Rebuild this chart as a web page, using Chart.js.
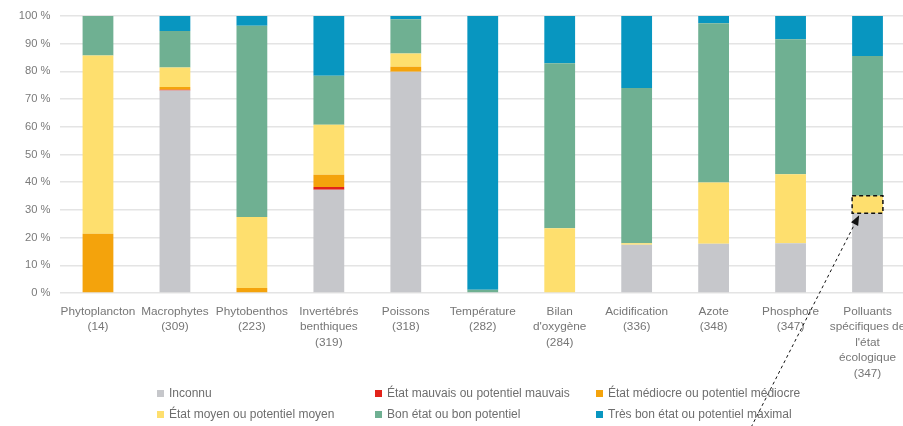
<!DOCTYPE html>
<html lang="fr">
<head>
<meta charset="utf-8">
<script src="https://cdn.jsdelivr.net/npm/chart.js@4/dist/chart.umd.min.js"></script>
<style>
  html, body { margin: 0; padding: 0; background: #fff; overflow: hidden; }
  #wrap { position: relative; width: 906px; height: 426px; }
  #legend { position: absolute; left: 0; top: 0; width: 903px; height: 426px; pointer-events: none;
            font-family: "Liberation Sans", Arial, sans-serif; font-size: 12px; color: #6e6e6e; }
  .item { position: absolute; display: flex; align-items: center; white-space: nowrap; }
  .sw { width: 7px; height: 7px; margin-right: 5px; }
</style>
</head>
<body>
<div id="wrap">
  <canvas id="c" width="906" height="426"></canvas>
  <div id="legend"></div>
</div>
<script>
// Categories (number of water bodies in brackets)
const categoryLabels = [
  ["Phytoplancton", "(14)"],
  ["Macrophytes", "(309)"],
  ["Phytobenthos", "(223)"],
  ["Invertébrés", "benthiques", "(319)"],
  ["Poissons", "(318)"],
  ["Température", "(282)"],
  ["Bilan", "d'oxygène", "(284)"],
  ["Acidification", "(336)"],
  ["Azote", "(348)"],
  ["Phosphore", "(347)"],
  ["Polluants", "spécifiques de", "l'état", "écologique", "(347)"]
];

// Share of water bodies per status class (%)
const inconnu  = [0, 73.1, 0, 37.3, 79.9, 0, 0, 17.4, 17.8, 18.0, 28.8];
const mauvais  = [0, 0.3, 0, 1.0, 0, 0, 0, 0, 0, 0, 0];
const mediocre = [21.4, 1.0, 1.8, 4.4, 1.8, 0, 0, 0, 0, 0, 0];
const moyen    = [64.3, 7.0, 25.6, 18.0, 4.8, 0, 23.4, 0.6, 22.1, 24.9, 6.3];
const bon      = [14.3, 13.2, 69.1, 17.7, 12.3, 1.2, 59.5, 56.0, 57.5, 48.7, 50.5];
const tresBon  = [0, 5.4, 3.5, 21.6, 1.2, 98.8, 17.1, 26.0, 2.6, 8.4, 14.4];

const seriesNames = [
  "Inconnu",
  "État mauvais ou potentiel mauvais",
  "État médiocre ou potentiel médiocre",
  "État moyen ou potentiel moyen",
  "Bon état ou bon potentiel",
  "Très bon état ou potentiel maximal"
];
const yTicks = [0, 10, 20, 30, 40, 50, 60, 70, 80, 90, 100];

const colors = ["#c6c7cb", "#e2231a", "#f4a30c", "#fedf6e", "#6fb092", "#0896c0"];
const values = [inconnu, mauvais, mediocre, moyen, bon, tresBon];

const datasets = values.map((v, i) => ({
  label: seriesNames[i],
  data: v,
  backgroundColor: colors[i],
  borderWidth: 0,
  barPercentage: 0.4,
  categoryPercentage: 1.0
}));

// Dashed frame around the highlighted segment plus a dashed pointer arrow
const highlight = {
  id: "highlight",
  afterDatasetsDraw(chart) {
    const el = chart.getDatasetMeta(3).data[10];
    if (!el) return;
    const { x, y, base, width } = el.getProps(["x", "y", "base", "width"], true);
    const ctx = chart.ctx;
    ctx.save();
    ctx.strokeStyle = "#111";
    ctx.lineWidth = 1.5;
    ctx.setLineDash([4, 3]);
    ctx.strokeRect(x - width / 2, y, width, base - y);

    const tipX = x - width / 2 + 7, tipY = base + 2;
    const tailX = tipX - 108, tailY = tipY + 212;
    ctx.lineWidth = 1;
    ctx.setLineDash([3, 3]);
    ctx.beginPath();
    ctx.moveTo(tailX, tailY);
    ctx.lineTo(tipX, tipY);
    ctx.stroke();
    const ang = Math.atan2(tipY - tailY, tipX - tailX);
    ctx.setLineDash([]);
    ctx.fillStyle = "#111";
    ctx.beginPath();
    ctx.moveTo(tipX, tipY);
    ctx.lineTo(tipX - 10 * Math.cos(ang) + 4 * Math.sin(ang), tipY - 10 * Math.sin(ang) - 4 * Math.cos(ang));
    ctx.lineTo(tipX - 10 * Math.cos(ang) - 4 * Math.sin(ang), tipY - 10 * Math.sin(ang) + 4 * Math.cos(ang));
    ctx.closePath();
    ctx.fill();
    ctx.restore();
  }
};

const chart = new Chart(document.getElementById("c"), {
  type: "bar",
  data: { labels: categoryLabels, datasets },
  options: {
    responsive: false,
    animation: false,
    layout: { padding: { top: 16, right: 0, bottom: 0, left: 0 } },
    plugins: { legend: { display: false }, tooltip: { enabled: false } },
    scales: {
      x: {
        stacked: true,
        grid: { display: false },
        border: { display: false },
        ticks: {
          autoSkip: false, maxRotation: 0, minRotation: 0, padding: 3,
          color: "#767676",
          font: { family: "Liberation Sans", size: 11.8, lineHeight: 1.31 }
        },
        afterFit(s) { s.height = 133; s.paddingLeft = 0; s.paddingRight = 0; }
      },
      y: {
        stacked: true,
        min: 0, max: 100,
        afterBuildTicks(s) { s.ticks = yTicks.map(v => ({ value: v })); },
        grid: { color: "#e4e4e4", lineWidth: 1.5, drawTicks: false },
        border: { display: false },
        ticks: {
          padding: 9,
          color: "#7a7a7a",
          font: { family: "Liberation Sans", size: 11.2 },
          callback: v => v + "\u00a0%"
        },
        afterFit(s) { s.width = 59.5; }
      }
    }
  },
  plugins: [highlight]
});

// Legend: two rows of three entries
const legend = document.getElementById("legend");
const colX = [157, 375, 596];
const rowY = [393, 414];
seriesNames.forEach((name, i) => {
  const d = document.createElement("div");
  d.className = "item";
  d.style.left = colX[i % 3] + "px";
  d.style.top = (rowY[Math.floor(i / 3)] - 7) + "px";
  d.style.height = "14px";
  d.innerHTML = '<span class="sw" style="background:' + colors[i] + '"></span><span>' + name + '</span>';
  legend.appendChild(d);
});
</script>
</body>
</html>
